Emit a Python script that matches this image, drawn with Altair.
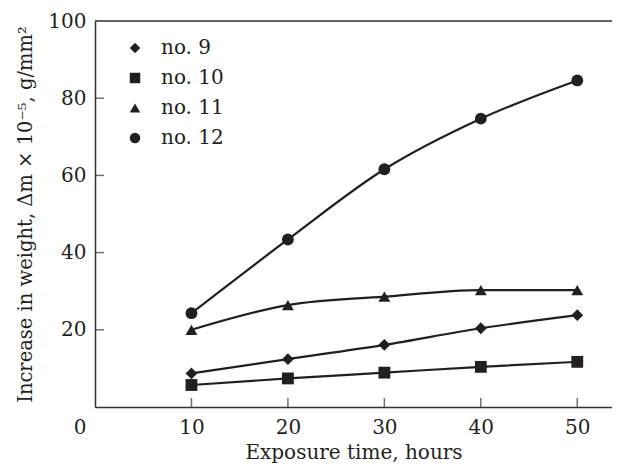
import altair as alt
import pandas as pd

hours = [10, 20, 30, 40, 50]
series_names = ["no. 9", "no. 10", "no. 11", "no. 12"]
no9 = [8.7, 12.4, 16.1, 20.4, 23.8]
no10 = [5.7, 7.4, 8.9, 10.4, 11.7]
no11 = [20.0, 26.4, 28.6, 30.3, 30.3]
no12 = [24.3, 43.4, 61.6, 74.7, 84.6]
x_ticks = [10, 20, 30, 40, 50]
y_ticks = [20, 40, 60, 80, 100]
shapes = ["diamond", "square", "triangle-up", "circle"]

rows = []
for name, vals in zip(series_names, [no9, no10, no11, no12]):
    for h, v in zip(hours, vals):
        rows.append({"series": name, "hours": h, "value": v})
df = pd.DataFrame(rows)

FONT = "DejaVu Serif"
INK = "#231f20"
W, H = 517, 386
XMAX = 53.6

xs = alt.Scale(domain=[0, XMAX], nice=False, zero=True)
ys = alt.Scale(domain=[0, 100], nice=False)

x_axis = alt.Axis(values=x_ticks, title="Exposure time, hours", grid=False,
                  tickSize=0, labelPadding=10, titlePadding=5,
                  labelFontSize=20, titleFontSize=20, labelFont=FONT, titleFont=FONT,
                  labelColor=INK, titleColor=INK, titleFontWeight="normal",
                  domainColor="#333333", domainWidth=1.5)
y_axis = alt.Axis(values=y_ticks, title="Increase in weight, Δm × 10⁻⁵, g/mm²", grid=False,
                  tickSize=0, labelPadding=9, titlePadding=12,
                  labelFontSize=20, titleFontSize=19.5, labelFont=FONT, titleFont=FONT,
                  labelColor=INK, titleColor=INK, titleFontWeight="normal",
                  domainColor="#333333", domainWidth=1.5)

base = alt.Chart(df)

lines = base.mark_line(interpolate="monotone", color=INK, strokeWidth=2.2).encode(
    x=alt.X("hours:Q", scale=xs, axis=x_axis),
    y=alt.Y("value:Q", scale=ys, axis=y_axis),
    detail="series:N",
)

points = base.mark_point(filled=True, opacity=1, color=INK, size=140).encode(
    x=alt.X("hours:Q", scale=xs),
    y=alt.Y("value:Q", scale=ys),
    shape=alt.Shape("series:N", scale=alt.Scale(domain=series_names, range=shapes),
                    sort=series_names,
                    legend=alt.Legend(title=None, orient="none", legendX=30, legendY=17,
                                      labelFont=FONT, labelFontSize=20, labelColor=INK,
                                      symbolFillColor=INK, symbolStrokeColor=INK,
                                      symbolSize=110, symbolOpacity=1,
                                      rowPadding=10, labelOffset=16, padding=0)),
)

xt = pd.DataFrame({"t": x_ticks})
yt = pd.DataFrame({"t": y_ticks[:-1]})
xticks = alt.Chart(xt).mark_tick(color="#333333", thickness=1.5, size=9).encode(
    x=alt.X("t:Q", scale=xs), y=alt.value(H - 4.5))
yticks = alt.Chart(yt).mark_tick(color="#333333", thickness=1.5, size=9).encode(
    y=alt.Y("t:Q", scale=ys), x=alt.value(4.5))

top = alt.Chart(pd.DataFrame({"v": [100]})).mark_rule(color="#333333", strokeWidth=1.5).encode(
    y=alt.Y("v:Q", scale=ys))

origin = alt.Chart(pd.DataFrame({"x": [0], "y": [0], "label": ["0"]})).mark_text(
    font=FONT, fontSize=20, color=INK, dx=-15, dy=21, baseline="middle", align="center"
).encode(x=alt.X("x:Q", scale=xs), y=alt.Y("y:Q", scale=ys), text="label:N")

chart = alt.layer(lines, points, xticks, yticks, top, origin).properties(
    width=W, height=H,
    autosize=alt.AutoSizeParams(type="none"),
    padding={"left": 87, "top": 13, "right": 0, "bottom": 62},
).configure_view(stroke=None).configure(background="white")

chart.save("out.html", embed_options={"renderer": "svg", "actions": False})
